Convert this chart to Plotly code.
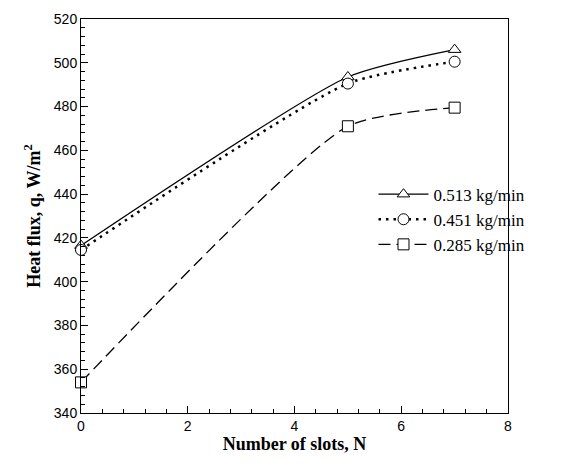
import plotly.graph_objects as go

slots = [0, 5, 7]
q_0513 = [416.5, 493.5, 506]
q_0451 = [414.5, 490.5, 500.5]
q_0285 = [354, 471, 479.5]
labels = ["0.513 kg/min", "0.451 kg/min", "0.285 kg/min"]

fig = go.Figure()
series = [
    (q_0513, labels[0], "solid", "triangle-up", 1.3),
    (q_0451, labels[1], "2.5px,5px", "circle", 2.5),
    (q_0285, labels[2], "12px,6px", "square", 1.3),
]
for ys, name, dash, sym, w in series:
    fig.add_trace(go.Scatter(
        x=slots, y=ys, name=name, mode="lines+markers",
        line=dict(color="black", width=w, dash=dash, shape="spline", smoothing=0.6),
        marker=dict(symbol=sym, size=11, color="white", line=dict(width=1, color="black")),
        cliponaxis=False,
    ))

# helper trace so that the minor-tick overlay axes are rendered
fig.add_trace(go.Scatter(x=[None], y=[None], xaxis="x2", yaxis="y2", mode="none",
                         showlegend=False, hoverinfo="skip"))

fig.update_layout(
    width=575, height=468,
    margin=dict(l=81, r=67, t=11, b=55),
    plot_bgcolor="white", paper_bgcolor="white",
    showlegend=True,
    legend=dict(x=0.685, y=0.6, xanchor="left", yanchor="top",
                font=dict(family="Liberation Serif", size=17, color="black"),
                bgcolor="rgba(0,0,0,0)", tracegroupgap=0, itemwidth=50),
    font=dict(family="Liberation Sans", size=14, color="black"),
    xaxis=dict(
        range=[0, 8], dtick=2, tick0=0, ticks="inside", ticklen=7, tickwidth=1, tickcolor="black",
        showline=True, linecolor="black", linewidth=1, mirror=True, showgrid=False, zeroline=False,
        title=dict(text="Number of slots, N", font=dict(family="Liberation Serif", size=18, weight="bold"), standoff=4),
        tickfont=dict(family="Liberation Sans", size=14),
    ),
    yaxis=dict(
        range=[340, 520], dtick=20, tick0=340, ticks="inside", ticklen=7, tickwidth=1, tickcolor="black",
        showline=True, linecolor="black", linewidth=1, mirror=True, showgrid=False, zeroline=False,
        title=dict(text="Heat flux, q, W/m<sup>2</sup>", font=dict(family="Liberation Serif", size=18, weight="bold"), standoff=8),
        tickfont=dict(family="Liberation Sans", size=14),
    ),
    xaxis2=dict(overlaying="x", anchor="y", range=[0, 8], dtick=0.4, tick0=0,
                ticks="inside", ticklen=4, tickwidth=1, tickcolor="black",
                showticklabels=False, showgrid=False, zeroline=False, showline=False, side="bottom"),
    yaxis2=dict(overlaying="y", anchor="x", range=[340, 520], dtick=4, tick0=340,
                ticks="inside", ticklen=4, tickwidth=1, tickcolor="black",
                showticklabels=False, showgrid=False, zeroline=False, showline=False, side="left"),
)
fig.write_html("out.html")
